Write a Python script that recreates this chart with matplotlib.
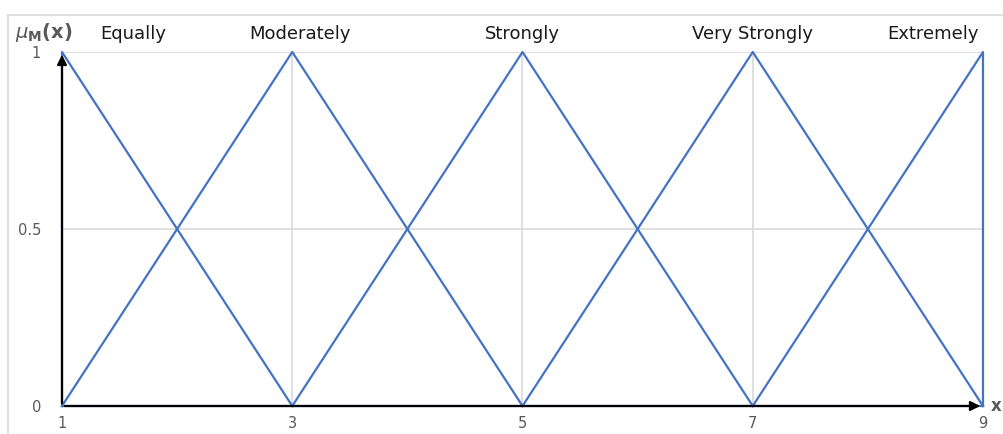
import matplotlib.pyplot as plt
from matplotlib.lines import Line2D

# membership functions (triangular), x and mu values
terms = ["Equally", "Moderately", "Strongly", "Very Strongly", "Extremely"]
term_x = [[1, 1, 3], [1, 3, 5], [3, 5, 7], [5, 7, 9], [7, 9, 9]]
term_mu = [[0, 1, 0], [0, 1, 0], [0, 1, 0], [0, 1, 0], [0, 1, 0]]
label_x = [1.62, 3.07, 5.0, 7.0, 8.57]

x_ticks = [1, 3, 5, 7, 9]
y_ticks = [0, 0.5, 1]
y_tick_labels = ["0", "0.5", "1"]

blue = "#4472C4"
grey = "#595959"

fig = plt.figure(figsize=(10.04, 4.34), dpi=100)
ax = fig.add_axes([62 / 1004, 28 / 434, 921 / 1004, 354 / 434])

# outer chart frame (only top and left visible)
fig.add_artist(Line2D([8 / 1004, 8 / 1004], [0, 419 / 434], color="#d9d9d9", lw=1.2,
                      transform=fig.transFigure))
fig.add_artist(Line2D([8 / 1004, 1], [419 / 434, 419 / 434], color="#d9d9d9", lw=1.2,
                      transform=fig.transFigure))

for xs, ms in zip(term_x, term_mu):
    ax.plot(xs, ms, color=blue, lw=1.6, zorder=3, clip_on=False)
ax.plot([1, 9], [0, 0], color=blue, lw=1.6, zorder=3, clip_on=False)

ax.set_xlim(1, 9)
ax.set_ylim(0, 1)
ax.set_xticks(x_ticks)
ax.set_yticks(y_ticks)
ax.set_yticklabels(y_tick_labels)
ax.grid(True, color="#d9d9d9", lw=1.2, zorder=0)
for s in ax.spines.values():
    s.set_visible(False)
ax.tick_params(length=0, colors=grey, labelsize=10.5, pad=7)
ax.tick_params(axis="y", pad=15)

# black axis arrows
ax.annotate("", xy=(9.0, 0), xytext=(1, 0),
            arrowprops=dict(arrowstyle="-|>", color="black", lw=1.6, mutation_scale=14),
            annotation_clip=False, zorder=4)
ax.annotate("", xy=(1, 1.0), xytext=(1, 0),
            arrowprops=dict(arrowstyle="-|>", color="black", lw=1.6, mutation_scale=14),
            annotation_clip=False, zorder=4)

for name, lx in zip(terms, label_x):
    ax.text(lx, 1.05, name, ha="center", va="center", fontsize=13,
            family="DejaVu Sans", color="#1a1a1a")

plt.rcParams["mathtext.fontset"] = "dejavusans"
fig.text(44 / 1004, 1 - 33 / 434, r"$\mu_{\mathbf{M}}\mathbf{(x)}$", ha="center",
         va="center", fontsize=14, color=grey)
fig.text(991 / 1004, 1 - 406 / 434, "x", ha="left", va="center", fontsize=12,
         color=grey, fontweight="bold")

fig.savefig("out.png", dpi=100)
